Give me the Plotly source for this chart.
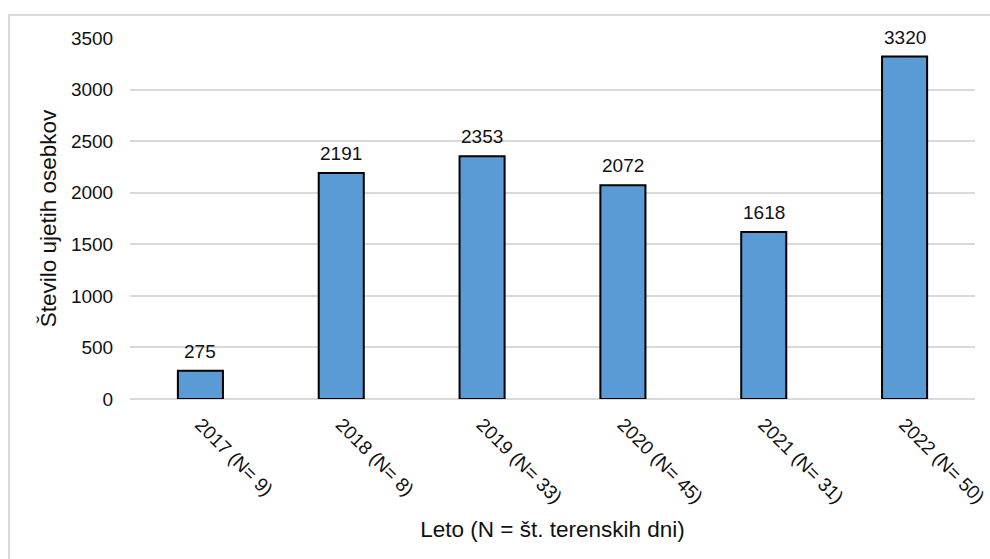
import plotly.graph_objects as go

categories = ["2017 (N= 9)", "2018 (N= 8)", "2019 (N= 33)", "2020 (N= 45)", "2021 (N= 31)", "2022 (N= 50)"]
values = [275, 2191, 2353, 2072, 1618, 3320]
y_ticks = [0, 500, 1000, 1500, 2000, 2500, 3000, 3500]

W, H = 990, 559
L, R, T, B = 130, 15, 38, 160
pw, ph = W - L - R, H - T - B

fam = "Liberation Sans, Arial, sans-serif"
tick_font = dict(family=fam, size=19, color="#111111")
title_font = dict(family=fam, size=22.5, color="#111111")

fig = go.Figure(go.Bar(
    x=categories, y=values,
    marker=dict(color="#5b9bd5", line=dict(color="#000000", width=2)),
    width=0.32, hoverinfo="skip",
))

annotations = [dict(x=c, y=v, xref="x", yref="y", text=str(v), showarrow=False,
                    yanchor="bottom", yshift=7, font=tick_font)
               for c, v in zip(categories, values)]

fig.update_layout(
    width=W, height=H, margin=dict(l=L, r=R, t=T, b=B, pad=0, autoexpand=False),
    paper_bgcolor="white", plot_bgcolor="white", font=tick_font, showlegend=False,
    xaxis=dict(tickangle=45, showgrid=False, showline=False, ticks="outside", ticklen=6,
               tickcolor="white", tickfont=tick_font, automargin=False,
               title=dict(text="Leto (N = št. terenskih dni)", font=title_font, standoff=14)),
    yaxis=dict(range=[0, 3500], tickvals=y_ticks, showgrid=True, gridcolor="#d9d9d9", gridwidth=1.5,
               zeroline=True, zerolinecolor="#d9d9d9", zerolinewidth=1.5, showline=False,
               ticks="outside", ticklen=12, tickcolor="white", tickfont=tick_font, automargin=False,
               title=dict(text="Število ujetih osebkov", font=title_font, standoff=8)),
    annotations=annotations,
    shapes=[dict(type="rect", xref="paper", yref="paper",
                 x0=(9 - L) / pw, x1=1.2, y0=-0.6, y1=(H - B - 15) / ph,
                 line=dict(color="#d9d9d9", width=2), fillcolor="rgba(0,0,0,0)", layer="below")],
)

fig.write_html("out.html")
